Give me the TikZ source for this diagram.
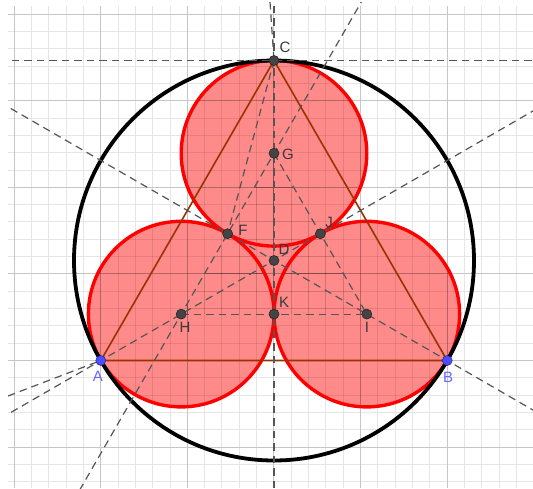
\documentclass[tikz,border=0pt]{standalone}
\usepackage{fontspec}
\setmainfont{Liberation Sans}
\usetikzlibrary{calc}
\definecolor{gridminor}{HTML}{E6E6E6}
\definecolor{gridmajor}{HTML}{C6C6C6}
\definecolor{auxline}{HTML}{555555}
\definecolor{tribrown}{HTML}{993300}
\definecolor{ptgray}{HTML}{444444}
\definecolor{lblgray}{HTML}{3A3A3A}
\definecolor{ptblue}{HTML}{4D4DFF}
\definecolor{lblblue}{HTML}{6666FF}
\definecolor{circred}{HTML}{FF0000}
\definecolor{circfill}{HTML}{FF8A8A}
\tikzset{
  font=\rmfamily,
  minor grid/.style={draw=gridminor, line width=0.7pt},
  major grid/.style={draw=gridmajor, line width=1pt},
  tinted/.style={draw=black, draw opacity=#1},
  aux/.style={draw=auxline, dash pattern=on 7.5pt off 5pt, line width=1.2pt},
  outer circle/.style={draw=black, line width=3.8pt},
  tangent circle/.style={draw=circred, line width=3.4pt},
  side/.style={draw=tribrown, line width=1.6pt},
  pt/.style={circle, fill=ptgray, draw=black!85, line width=0.6pt,
    inner sep=0pt, minimum size=10pt},
  free pt/.style={pt, fill=ptblue, draw=ptblue!55!black},
  pt label/.style={font=\fontsize{15}{17}\selectfont, text=lblgray, inner sep=1pt},
  free label/.style={pt label, text=lblblue}
}
\newcommand{\gridlines}[2]{%
  \foreach \i in {0,...,29}
    \draw[minor grid, #1] ({14+17.32*\i},6) -- ({14+17.32*\i},488);
  \foreach \j in {0,...,27}
    \draw[minor grid, #1] (8,{14+17.32*\j}) -- (533,{14+17.32*\j});
  \foreach \i in {0,...,5}
    \draw[major grid, #2] ({14+86.6*\i},6) -- ({14+86.6*\i},488);
  \foreach \j in {0,...,5}
    \draw[major grid, #2] (8,{14+86.6*\j}) -- (533,{14+86.6*\j});
}

\begin{document}
\begin{tikzpicture}[x=1pt,y=-1pt]
  \useasboundingbox (0,0) rectangle (533,488);

  % Background grid
  \gridlines{}{}

  % Construction points
  \coordinate (A) at (100.8,360.5);
  \coordinate (B) at (447.2,360.5);
  \coordinate (C) at (274,60.5);
  \coordinate (D) at (274,260.5);
  \coordinate (G) at (274,153.3);
  \coordinate (H) at (181.2,314.1);
  \coordinate (I) at (366.8,314.1);
  \coordinate (F) at (227.6,233.7);
  \coordinate (J) at (320.4,233.7);
  \coordinate (K) at (274,314.1);
  \coordinate (Aleft) at (8,396);
  \coordinate (Ctop) at (270,2);

  % Filled region: three tangent circles and triangle of centres
  \fill[circfill] (G) circle[radius=92.8pt];
  \fill[circfill] (H) circle[radius=92.8pt];
  \fill[circfill] (I) circle[radius=92.8pt];
  \fill[circfill] (G) -- (H) -- (I) -- cycle;
  \foreach \c in {G,H,I} {
    \begin{scope}
      \clip (\c) circle[radius=92.8pt];
      \gridlines{tinted=0.09}{tinted=0.2}
    \end{scope}
  }
  \begin{scope}
    \clip (G) -- (H) -- (I) -- cycle;
    \gridlines{tinted=0.09}{tinted=0.2}
  \end{scope}

  % Circles
  \draw[tangent circle] (G) circle[radius=92.8pt];
  \draw[tangent circle] (H) circle[radius=92.8pt];
  \draw[tangent circle] (I) circle[radius=92.8pt];
  \draw[outer circle] (D) circle[radius=200pt];

  % Triangle
  \draw[side, line join=round] (A) -- (B) -- (C) -- cycle;

  % Dashed auxiliary lines
  \begin{scope}
    \clip (8,2) rectangle (533,488);
    \draw[aux] ($(C)+(-300,0)$) -- ($(C)+(300,0)$);
    \draw[aux] ($(C)+(0,-80)$) -- ($(C)+(0,480)$);
    \draw[aux] ($(A)!-1!(J)$) -- ($(A)!3!(J)$);
    \draw[aux] ($(B)!-1!(F)$) -- ($(B)!3!(F)$);
    \draw[aux] ($(H)!-1.5!(G)$) -- ($(H)!3!(G)$);
    \draw[aux] (H) -- (I);
    \draw[aux] (G) -- (I);
    \draw[aux] (Aleft) -- (A);
    \draw[aux] (Ctop) -- (C);
    \draw[aux] (C) -- (F);
  \end{scope}

  % Points and labels
  \foreach \p in {C,G,F,J,D,K,H,I}
    \node[pt] (pt\p) at (\p) {};
  \node[free pt] (ptA) at (A) {};
  \node[free pt] (ptB) at (B) {};

  \node[pt label] (lblC) at (285,47) {C};
  \node[pt label] (lblG) at (288,154) {G};
  \node[pt label] (lblF) at (243,230) {F};
  \node[pt label] (lblJ) at (329,222) {J};
  \node[pt label] (lblD) at (284,249) {D};
  \node[pt label] (lblK) at (284,302) {K};
  \node[pt label] (lblH) at (185,327) {H};
  \node[pt label] (lblI) at (367,327) {I};
  \node[free label] (lblA) at (98,376) {A};
  \node[free label] (lblB) at (448,377) {B};
\end{tikzpicture}
\end{document}
